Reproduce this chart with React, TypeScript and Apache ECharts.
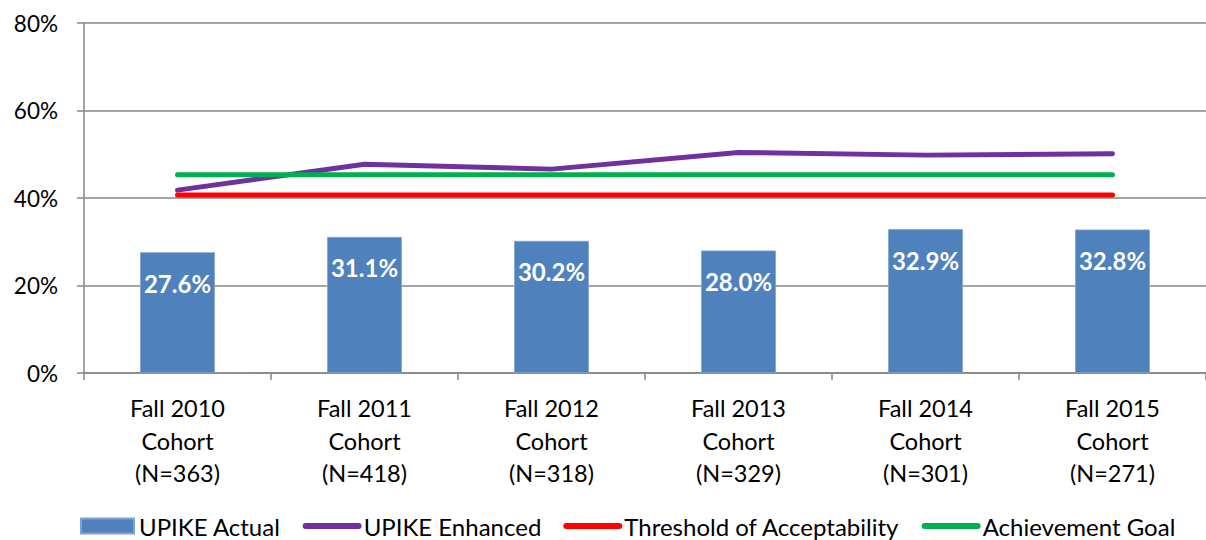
import React, { useEffect, useRef } from "react";
import * as echarts from "echarts";

const categories = [
  "Fall 2010\nCohort\n(N=363)",
  "Fall 2011\nCohort\n(N=418)",
  "Fall 2012\nCohort\n(N=318)",
  "Fall 2013\nCohort\n(N=329)",
  "Fall 2014\nCohort\n(N=301)",
  "Fall 2015\nCohort\n(N=271)",
];
const upikeActual = [27.6, 31.1, 30.2, 28.0, 32.9, 32.8];
const upikeEnhanced = [41.8, 47.7, 46.6, 50.4, 49.8, 50.1];
const threshold = [40.7, 40.7, 40.7, 40.7, 40.7, 40.7];
const achievementGoal = [45.3, 45.3, 45.3, 45.3, 45.3, 45.3];

const FONT = "Lato, 'Open Sans', sans-serif";

export default function App() {
  const ref = useRef<HTMLDivElement>(null);
  useEffect(() => {
    document.body.style.margin = "0";
    document.body.style.overflow = "hidden";
    const chart = echarts.init(ref.current!, undefined, { renderer: "svg" });
    const lineSeries = (name: string, data: number[], color: string) => ({
      name,
      type: "line",
      data,
      symbol: "none",
      lineStyle: { color, width: 5, cap: "round", join: "round" },
      itemStyle: { color },
    });
    const lineLegend = (name: string, color: string) => ({
      name,
      itemStyle: { opacity: 0 },
      lineStyle: { width: 6, color, cap: "round" },
    });
    chart.setOption({
      animation: false,
      textStyle: { fontFamily: FONT },
      grid: { left: 84, right: -8, top: 23, bottom: 167 },
      legend: {
        left: 75,
        top: 508,
        itemWidth: 53,
        itemHeight: 15,
        itemGap: 22,
        textStyle: { fontFamily: FONT, fontSize: 24, color: "#000", lineHeight: 26 },
        data: [
          { name: "UPIKE Actual", icon: "rect" },
          lineLegend("UPIKE Enhanced", "#7030A0"),
          lineLegend("Threshold of Acceptability", "#FF0000"),
          lineLegend("Achievement Goal", "#00B050"),
        ],
      },
      xAxis: {
        type: "category",
        data: categories,
        axisLine: { lineStyle: { color: "#868686", width: 1.5 } },
        axisTick: { show: true, length: 7, lineStyle: { color: "#868686", width: 1.5 } },
        axisLabel: {
          fontFamily: FONT,
          fontSize: 23.5,
          color: "#000",
          lineHeight: 32.5,
          margin: 19,
          interval: 0,
        },
      },
      yAxis: {
        type: "value",
        min: 0,
        max: 80,
        interval: 20,
        axisLine: { show: true, lineStyle: { color: "#868686", width: 1.5 } },
        axisTick: { show: true, length: 7, lineStyle: { color: "#868686", width: 1.5 } },
        splitLine: { lineStyle: { color: "#868686", width: 1.5 } },
        axisLabel: {
          fontFamily: FONT,
          fontSize: 22.5,
          color: "#000",
          margin: 26,
          formatter: "{value}%",
        },
      },
      series: [
        {
          name: "UPIKE Actual",
          type: "bar",
          data: upikeActual,
          barWidth: "40%",
          itemStyle: { color: "#4F81BD", borderColor: "#7FA3D0", borderWidth: 0.8 },
          label: {
            show: true,
            position: "insideTop",
            distance: 19,
            color: "#fff",
            fontFamily: FONT,
            fontWeight: "bold",
            fontSize: 24,
            formatter: (p: any) => p.value.toFixed(1) + "%",
          },
        },
        lineSeries("UPIKE Enhanced", upikeEnhanced, "#7030A0"),
        lineSeries("Threshold of Acceptability", threshold, "#FF0000"),
        lineSeries("Achievement Goal", achievementGoal, "#00B050"),
      ],
    });
    return () => chart.dispose();
  }, []);
  return <div ref={ref} style={{ width: 1206, height: 540 }} />;
}
